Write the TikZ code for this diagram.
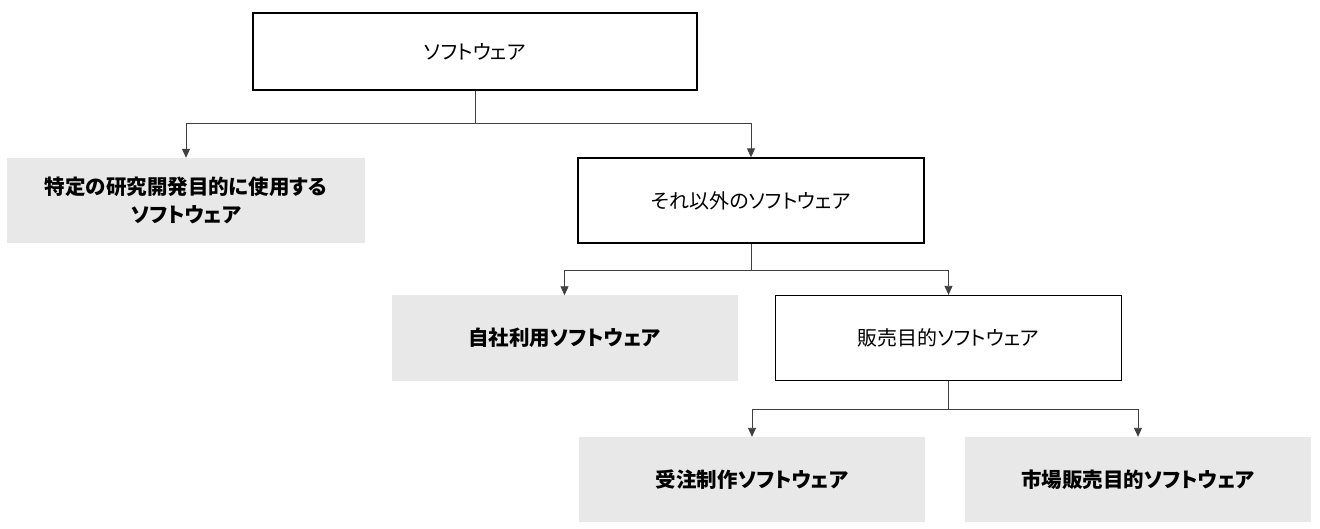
\documentclass[tikz,border=0pt]{standalone}
\usepackage{fontspec}
\setmainfont{Noto Sans CJK JP}[RawFeature=+palt]
\usetikzlibrary{arrows.meta}
\begin{document}
\begin{tikzpicture}[x=1pt,y=-1pt,
  base/.style={minimum width=346pt,minimum height=85pt,inner sep=0pt,align=center,font=\fontsize{20}{28}\selectfont},
  whitebox/.style={base,draw=black,line width=1.3pt,fill=white},
  graybox/.style={base,fill=black!9,font=\fontsize{20.5}{28}\selectfont\bfseries},
  conn/.style={draw=black!75,line width=0.9pt},
  arr/.style={conn,-{Triangle[length=9pt,width=8pt]}}]
\useasboundingbox (0,0) rectangle (1320,529);
\node[whitebox,minimum width=444pt,minimum height=77pt] (root) at (475,51.5) {ソフトウェア};
\node[graybox,minimum width=358pt] (a) at (186,200.5) {特定の研究開発目的に使用する\\ソフトウェア};
\node[whitebox] (b) at (751,200.5) {それ以外のソフトウェア};
\node[graybox] (c) at (564.5,338) {自社利用ソフトウェア};
\node[whitebox] (d) at (948.5,338) {販売目的ソフトウェア};
\node[graybox] (e) at (752,479.5) {受注制作ソフトウェア};
\node[graybox] (f) at (1138,479.5) {市場販売目的ソフトウェア};
\coordinate (j1) at (475,123);
\coordinate (j2) at (751,270);
\coordinate (j3) at (948.5,409);
\draw[conn] (root.south) -- (j1);
\draw[arr] (j1) -| (a.north);
\draw[arr] (j1) -| (b.north);
\draw[conn] (b.south) -- (j2);
\draw[arr] (j2) -| (c.north);
\draw[arr] (j2) -| (d.north);
\draw[conn] (d.south) -- (j3);
\draw[arr] (j3) -| (e.north);
\draw[arr] (j3) -| (f.north);
\end{tikzpicture}
\end{document}
